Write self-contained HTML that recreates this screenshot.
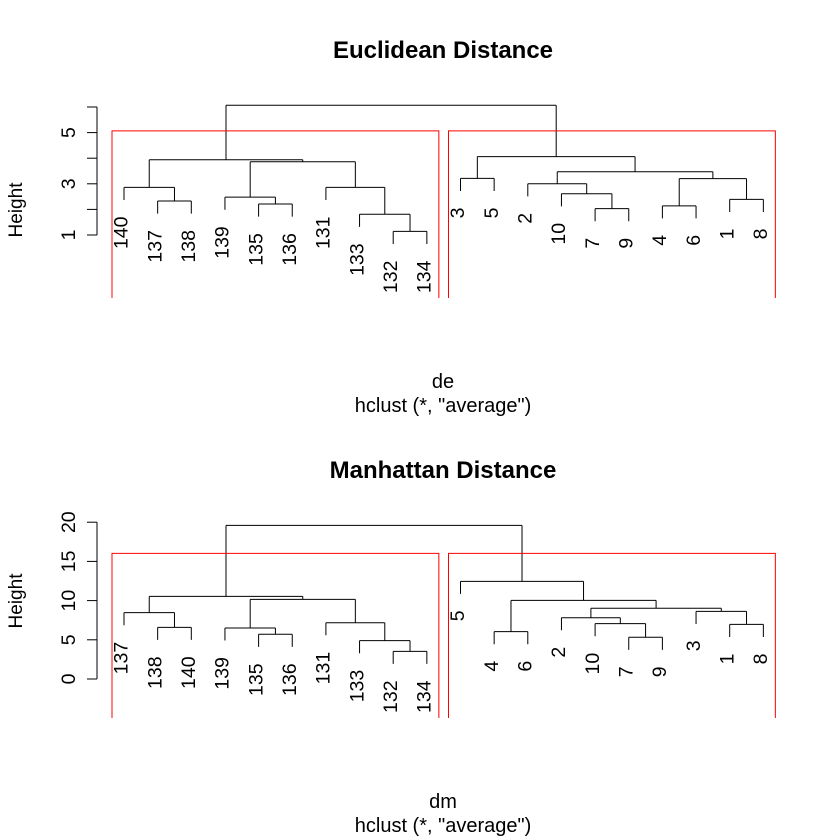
<!DOCTYPE html>
<html><head><meta charset="utf-8"><style>
html,body{margin:0;padding:0;background:#fff}
svg{display:block;font-family:"Liberation Sans",sans-serif}
</style></head><body>
<svg id="chart" width="840" height="840" viewBox="0 0 840 840">
<rect width="840" height="840" fill="#fff"/>
<text x="443" y="58" text-anchor="middle" font-weight="bold" font-size="24">Euclidean Distance</text>
<text x="443" y="388" text-anchor="middle" font-size="20">de</text>
<text x="443" y="412" text-anchor="middle" font-size="20">hclust (*, "average")</text>
<text transform="translate(22,210) rotate(-90)" text-anchor="middle" font-size="19">Height</text>
<text x="443" y="478" text-anchor="middle" font-weight="bold" font-size="24">Manhattan Distance</text>
<text x="443" y="808" text-anchor="middle" font-size="20">dm</text>
<text x="443" y="832" text-anchor="middle" font-size="20">hclust (*, "average")</text>
<text transform="translate(22,601) rotate(-90)" text-anchor="middle" font-size="19">Height</text>
</svg>
<script>
const topLabels = ["140","137","138","139","135","136","131","133","132","134","3","5","2","10","7","9","4","6","1","8"];
const topMerges = [[-9,-10],[-8,1],[-15,-16],[-17,-18],[-5,-6],[-2,-3],[-19,-20],[-4,5],[-14,3],[-1,6],[-7,2],[-13,9],[4,7],[-11,-12],[12,13],[8,11],[10,16],[14,15],[17,18]];
const topHeights = [1.14,1.81,2.03,2.14,2.21,2.33,2.39,2.48,2.61,2.86,2.86,3.0,3.2,3.21,3.47,3.86,3.94,4.06,6.07];
const topTicks = [1,2,3,4,5,6];
const topTickLabels = ["1","","3","","5",""];

const botLabels = ["137","138","140","139","135","136","131","133","132","134","5","4","6","2","10","7","9","3","1","8"];
const botMerges = [[-9,-10],[-8,1],[-16,-17],[-5,-6],[-12,-13],[-4,4],[-2,-3],[-19,-20],[-15,3],[-7,2],[-14,9],[-1,7],[-18,8],[11,13],[5,14],[6,10],[12,16],[-11,15],[17,18]];
const botHeights = [3.53,4.89,5.32,5.70,6.04,6.51,6.59,6.97,7.06,7.18,7.82,8.46,8.63,9.02,10.03,10.16,10.54,12.46,19.6];
const botTicks = [0,5,10,15,20];
const botTickLabels = ["0","5","10","15","20"];

const NS="http://www.w3.org/2000/svg";
const svg=document.getElementById('chart');
function mk(tag,attrs){const e=document.createElementNS(NS,tag);for(const k in attrs)e.setAttribute(k,attrs[k]);svg.appendChild(e);return e;}
const xOf=i=>124+33.65*i;

function draw(labels,merges,heights,ticks,tickLabels,y,boxBottom){
  const n=labels.length;
  const hmax=heights[heights.length-1], hmin=heights[0];
  const hang=0.1*(hmax-hmin);
  const mx=[];
  const cx=c=>c<0?xOf(-c-1):mx[c-1];
  merges.forEach((m,k)=>{
    const h=heights[k];
    const xa=cx(m[0]), xb=cx(m[1]);
    mx[k]=(xa+xb)/2;
    const p=mk('path',{d:'',stroke:'#000','stroke-width':1,fill:'none'});
    let d='M'+xa+' '+y(h)+'H'+xb;
    [m[0],m[1]].forEach(c=>{
      const x=cx(c);
      const yEnd=c<0?y(h-hang):y(heights[c-1]);
      d+='M'+x+' '+y(h)+'V'+yEnd;
      if(c<0){
        const t=mk('text',{transform:'translate('+(x+3.7)+','+(yEnd+16.5)+') rotate(-90)','text-anchor':'end','font-size':19.5});
        t.textContent=labels[-c-1];
        
        
      }
    });
    p.setAttribute('d',d);
    
    
  });
  const ax=mk('line',{x1:97,x2:97,y1:y(ticks[0]),y2:y(ticks[ticks.length-1]),stroke:'#000'});
  
  
  ticks.forEach((v,i)=>{
    const tk=mk('line',{x1:87,x2:97,y1:y(v),y2:y(v),stroke:'#000'});
    
    
    if(tickLabels[i]){
      const t=mk('text',{transform:'translate(75,'+y(v)+') rotate(-90)','text-anchor':'middle','font-size':19.5});
      t.textContent=tickLabels[i];
      
      
    }
  });
  const top=y((heights[heights.length-1]+heights[heights.length-2])/2);
  const last=merges[merges.length-1];
  const nLeft=(function cnt(c){return c<0?1:cnt(merges[c-1][0])+cnt(merges[c-1][1]);})(last[0]);
  [[0,nLeft-1],[nLeft,n-1]].forEach(r=>{
    const x1=xOf(r[0])-12, x2=xOf(r[1])+12;
    const b=mk('path',{d:'M'+x1+' '+boxBottom+'V'+top+'H'+x2+'V'+boxBottom,stroke:'#ff0000',fill:'none','stroke-width':1});
    
    
  });
}
draw(topLabels,topMerges,topHeights,topTicks,topTickLabels,v=>235-25.6*(v-1),298);
draw(botLabels,botMerges,botHeights,botTicks,botTickLabels,v=>679-7.84*v,718);
</script>
</body></html>
